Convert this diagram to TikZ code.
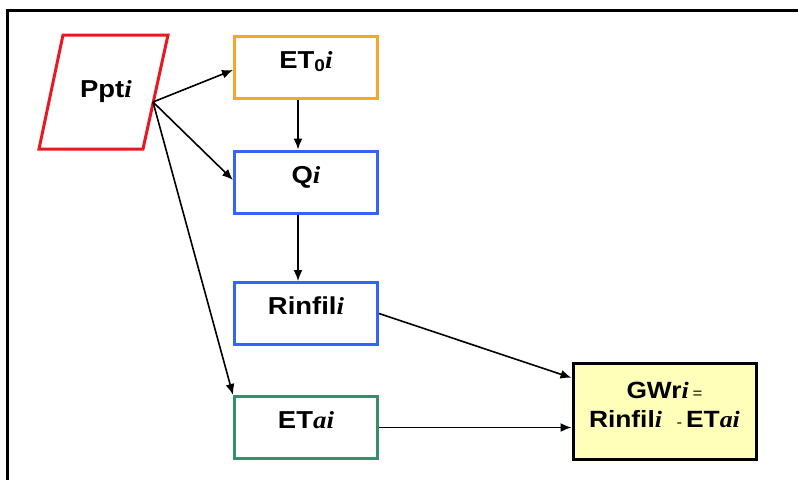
\documentclass[tikz,border=0pt]{standalone}
\usepackage{fontspec}
\setmainfont[FakeStretch=1.12]{Liberation Sans}
\newfontfamily\serifit[FakeStretch=1.1]{Liberation Serif}
\usetikzlibrary{arrows.meta,calc}

\definecolor{pptred}{RGB}{232,24,32}
\definecolor{etorange}{RGB}{245,168,40}
\definecolor{qblue}{RGB}{50,100,250}
\definecolor{etgreen}{RGB}{50,145,105}
\definecolor{gwyellow}{RGB}{255,255,185}

% italic serif index used in all labels
\newcommand{\idx}[1]{{\serifit\bfseries\itshape #1}}
\newcommand{\smallop}[1]{{\mdseries\fontsize{15}{16}\selectfont #1}}

\tikzset{
  labelfont/.style={font=\fontsize{24.5}{28}\selectfont\bfseries},
  flowbox/.style={draw, line width=3pt, minimum width=143pt, minimum height=62pt,
                  inner sep=0pt, labelfont, text height=17pt, text depth=15pt},
  flowarrow/.style={line width=1.6pt, -{Latex[length=11pt,width=9pt]}},
}

\begin{document}
\begin{tikzpicture}[x=1pt,y=-1pt]
  \useasboundingbox (0,0) rectangle (798,480);

  % open frame: top and left edges only
  \draw[line width=3pt] (7,480) -- (7,10) -- (798,10);

  % input parallelogram
  \draw[pptred, line width=3pt] (63,35) -- (168,35) -- (143,149) -- (39,149) -- cycle;
  \node[labelfont] (ppt) at (106,92) {Ppt\idx{i}};
  \coordinate (pptout) at (153,102);

  % process boxes
  \node[flowbox, draw=etorange] (et0) at (306,67.5) {ET{\fontsize{17}{17}\selectfont\raisebox{-3pt}{0}}\idx{i}};
  \node[flowbox, draw=qblue] (q) at (306,182) {Q\idx{i}};
  \node[flowbox, draw=qblue] (rinfil) at (306,313.5) {Rinfil\idx{i}};
  \node[flowbox, draw=etgreen] (eta) at (306,427.5) {ET\idx{ai}};

  % result box and its two-line formula
  \node[draw=black, line width=3pt, fill=gwyellow, minimum width=183pt, minimum height=96pt,
        inner sep=0pt] (gwr) at (664.5,411) {};
  \node[align=center, font=\fontsize{23.5}{29}\selectfont\bfseries, inner sep=0pt]
        (gwrtext) at ([yshift=6pt]gwr.center)
        {GWr\idx{i}\,\smallop{=}\\Rinfil\idx{i}\ \ \smallop{-}\,ET\idx{ai}};

  % connectors
  \draw[flowarrow] (pptout) -- (et0.west |- 0,70);
  \draw[flowarrow] (pptout) -- (q.west |- 0,180);
  \draw[flowarrow] (pptout) -- (eta.north west);
  \draw[flowarrow] ([xshift=-8pt]et0.south) -- ([xshift=-8pt]q.north);
  \draw[flowarrow] ([xshift=-8pt]q.south) -- ([xshift=-8pt]rinfil.north);
  \draw[flowarrow] (rinfil.east) -- ($(gwr.north west)!0.165!(gwr.south west)$);
  \draw[flowarrow] (eta.east) -- (gwr.west |- eta.east);
\end{tikzpicture}
\end{document}
